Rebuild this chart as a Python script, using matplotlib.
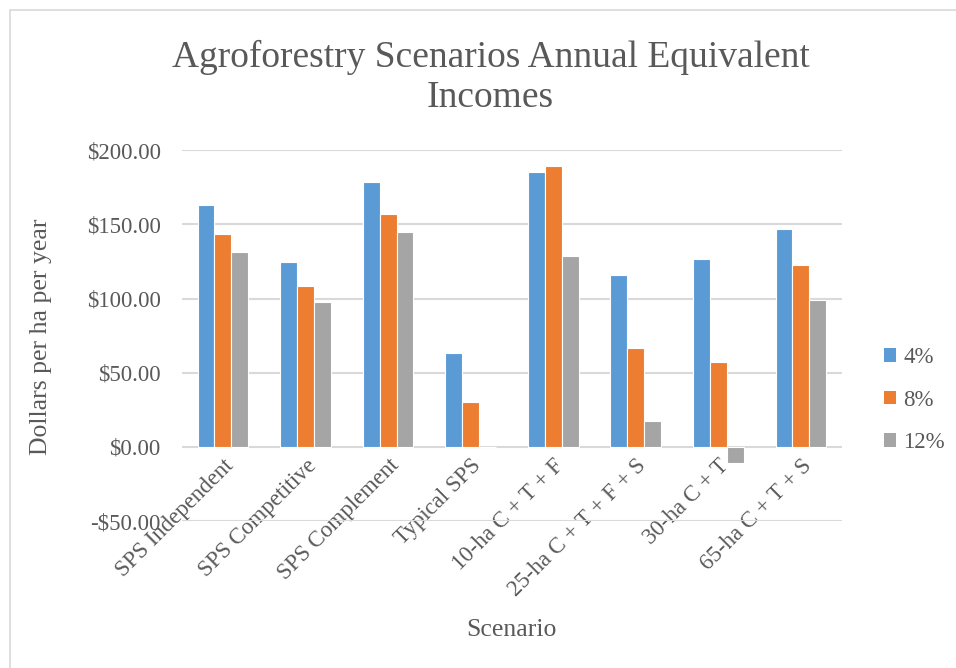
import numpy as np
import matplotlib
matplotlib.use('Agg')
import matplotlib.pyplot as plt
from matplotlib.patches import Rectangle, Patch

plt.rcParams['font.family'] = ['Liberation Serif', 'DejaVu Serif']

# datos
scenarios = ['SPS Independent', 'SPS Competitive', 'SPS Complement', 'Typical SPS',
             '10-ha C + T + F', '25-ha C + T + F + S', '30-ha C + T', '65-ha C + T + S']
rate_4 = [163.0, 125.0, 178.5, 63.5, 185.5, 116.0, 127.0, 147.0]
rate_8 = [143.5, 108.5, 157.0, 30.0, 189.5, 67.0, 57.5, 122.5]
rate_12 = [131.5, 98.0, 145.0, 0.0, 129.0, 17.5, -11.0, 99.0]
series_names = ['4%', '8%', '12%']
colors = ['#5B9BD5', '#ED7D31', '#A5A5A5']
txt = '#595959'

fig = plt.figure(figsize=(9.56, 6.68), dpi=100)
ax = fig.add_axes([0.190, 0.220, 0.691, 0.555])

# borde del area del grafico
fig.patches.append(Rectangle((10/956, -0.1), 1.2, 1 - 10/668 + 0.1, transform=fig.transFigure,
                             fill=False, edgecolor='#D9D9D9', linewidth=1.2))

x = np.arange(len(scenarios))
w = 0.205
for k, vals in enumerate([rate_4, rate_8, rate_12]):
    ax.bar(x + (k - 1) * w, vals, width=w, color=colors[k], edgecolor='white',
           linewidth=0.8, zorder=3, label=series_names[k])

ax.set_xlim(-0.5, len(scenarios) - 0.5)
ax.set_ylim(-50, 200)
ax.set_yticks(np.arange(-50, 201, 50))
ax.set_yticklabels(['-$50.00', '$0.00', '$50.00', '$100.00', '$150.00', '$200.00'])
ax.yaxis.grid(True, color='#D9D9D9', linewidth=1.5, zorder=0)
ax.set_axisbelow(True)
for s in ['top', 'right', 'left']:
    ax.spines[s].set_visible(False)
ax.spines['bottom'].set_position(('data', 0))
ax.spines['bottom'].set_visible(False)
ax.tick_params(axis='both', length=0, colors=txt, labelsize=16.5)
ax.tick_params(axis='y', pad=15)
ax.set_xticks(x)
ax.set_xticklabels(scenarios, rotation=45, ha='right', va='top', rotation_mode='anchor')
ax.tick_params(axis='x', pad=6)

fig.text(0.513, 0.884, 'Agroforestry Scenarios Annual Equivalent\nIncomes', ha='center',
         va='center', fontsize=27, color=txt, linespacing=1.18)
fig.text(0.043, 0.496, 'Dollars per ha per year', rotation=90, ha='center', va='center',
         fontsize=18.5, color=txt)
fig.text(0.535, 0.057, 'Scenario', ha='center', va='center', fontsize=18.5, color=txt)

handles = [Patch(facecolor=c) for c in colors]
fig.legend(handles, series_names, loc='center left', bbox_to_anchor=(0.903, 0.401),
           frameon=False, fontsize=16.5, labelcolor=txt, handlelength=0.55,
           handleheight=0.55, handletextpad=0.3, labelspacing=0.95)

fig.savefig('out.png', dpi=100)
